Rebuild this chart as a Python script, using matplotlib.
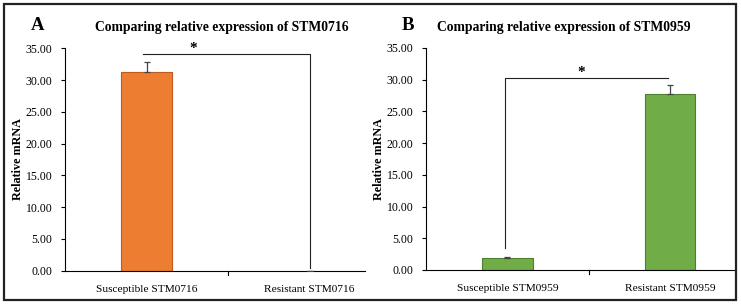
import matplotlib.pyplot as plt
from matplotlib.patches import Rectangle

# Panel A
cats_a = ["Susceptible STM0716", "Resistant STM0716"]
vals_a = [31.3, 0.02]
errs_a = [1.6, 0.0]

# Panel B
cats_b = ["Susceptible STM0959", "Resistant STM0959"]
vals_b = [1.9, 27.7]
errs_b = [0.15, 1.45]

yticks = [0, 5, 10, 15, 20, 25, 30, 35]

plt.rcParams["font.family"] = ["Liberation Serif", "DejaVu Serif"]

fig = plt.figure(figsize=(7.41, 3.08), dpi=100)


def draw_panel(ax, cats, vals, errs, color, edge, xmax):
    x = range(len(cats))
    lws = [0.8 if v > 0.5 else 0 for v in vals]
    ax.bar(x, vals, width=0.31, color=color, edgecolor=edge, linewidth=lws, zorder=2)
    ax.errorbar(x, vals, yerr=[[0] * len(errs), errs], fmt="none",
                ecolor="#444444", elinewidth=0.9, capsize=2, capthick=0.9, zorder=3)
    ax.set_xlim(-0.5, xmax)
    ax.set_ylim(0, 35)
    ax.set_yticks(yticks)
    ax.set_yticklabels([f"{v:.2f}" for v in yticks], fontsize=8.5)
    ax.set_xticks([0, 1])
    ax.set_xticklabels(cats, fontsize=8.2)
    ax.tick_params(axis="x", length=0, pad=10)
    ax.tick_params(axis="y", length=3, width=0.8, direction="out", pad=6)
    # category boundary tick
    ax.plot([0.5, 0.5], [0, -0.6], color="black", lw=0.8, clip_on=False)
    ax.spines[["top", "right"]].set_visible(False)
    ax.spines[["left", "bottom"]].set_linewidth(0.8)
    ax.set_ylabel("Relative mRNA", fontsize=8.7, fontweight="bold", labelpad=1)


ax_a = fig.add_axes([0.0877, 0.1211, 0.4049, 0.7221])
draw_panel(ax_a, cats_a, vals_a, errs_a, "#ED7D31", "#C05A1E", 1.34)
ax_a.plot([-0.02, 1.0, 1.0], [34.1, 34.1, 0.5], color="#222222", lw=0.8, clip_on=False)
ax_a.text(0.285, 34.0, "*", ha="center", va="bottom", fontsize=11, fontweight="bold")
ax_a.set_title("Comparing relative expression of STM0716", fontsize=9.8,
               fontweight="bold", x=0.523, y=1.04)

ax_b = fig.add_axes([0.5749, 0.1234, 0.417, 0.7208])
draw_panel(ax_b, cats_b, vals_b, errs_b, "#70AD47", "#4E7F30", 1.40)
ax_b.plot([-0.015, -0.015, 0.99], [3.5, 30.2, 30.2], color="#222222", lw=0.8)
ax_b.text(0.457, 30.1, "*", ha="center", va="bottom", fontsize=11, fontweight="bold")
ax_b.set_title("Comparing relative expression of STM0959", fontsize=9.8,
               fontweight="bold", x=0.447, y=1.04)

fig.text(38 / 741, 1 - 26 / 308, "A", fontsize=13.5, fontweight="bold", ha="center", va="center")
fig.text(408 / 741, 1 - 26 / 308, "B", fontsize=13.5, fontweight="bold", ha="center", va="center")

# outer frame
fig.patches.append(Rectangle((4 / 741, 1 - 300 / 308), 732 / 741, 296 / 308,
                             transform=fig.transFigure, fill=False,
                             edgecolor="#222222", linewidth=1.6))

fig.savefig("out.png", dpi=100)
